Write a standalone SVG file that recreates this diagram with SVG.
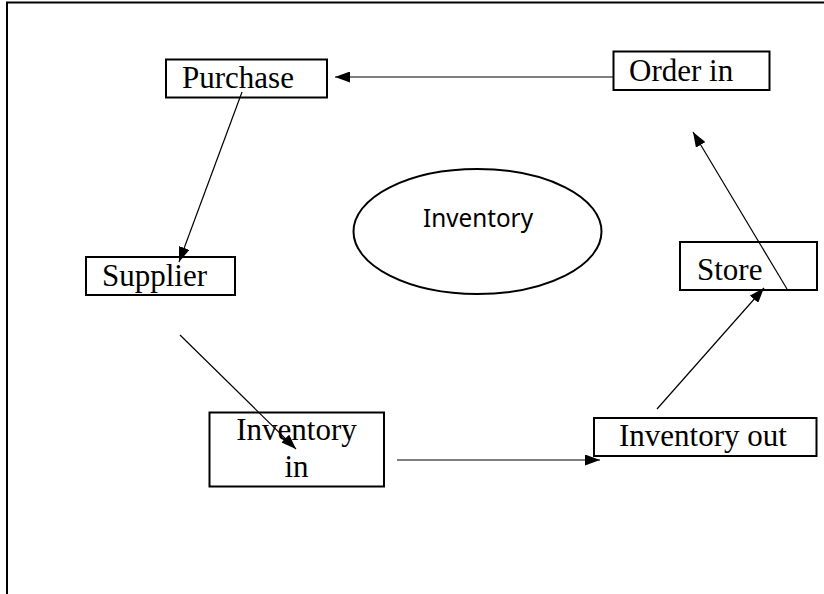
<svg xmlns="http://www.w3.org/2000/svg" width="824" height="594" viewBox="0 0 824 594">
<style>
.box{fill:#fff;stroke:#000;stroke-width:2}
.t{font-family:"Liberation Serif","Times New Roman",serif;font-size:31px;fill:#000}
.s{font-family:"Noto Sans","Open Sans",sans-serif;font-size:26px;fill:#000}
.c{stroke:#000;stroke-width:1.2;fill:none;marker-end:url(#ah)}
</style>
<defs>
<marker id="ah" markerUnits="userSpaceOnUse" markerWidth="16" markerHeight="11" refX="15" refY="5.5" orient="auto">
<path d="M0,0 L15,5.5 L0,11 z" fill="#000"/>
</marker>
</defs>
<rect width="824" height="594" fill="#fff"/>
<g id="frame">
<path d="M824,2.5 H7 V594" fill="none" stroke="#000" stroke-width="2"/>
</g>
<g id="purchase"><rect class="box" x="166" y="59.5" width="161" height="38"/><text class="t" x="182" y="88">Purchase</text></g>
<g id="order-in"><rect class="box" x="613.5" y="51.5" width="156" height="38.5"/><text class="t" x="629" y="81">Order in</text></g>
<g id="supplier"><rect class="box" x="86" y="257" width="149" height="38"/><text class="t" x="102" y="286">Supplier</text></g>
<g id="inventory-in"><rect class="box" x="209.5" y="412.5" width="174.5" height="74"/><text class="t" x="296.5" y="440" text-anchor="middle">Inventory</text><text class="t" x="296.5" y="477" text-anchor="middle">in</text></g>
<g id="inventory-out"><rect class="box" x="594" y="418" width="222.5" height="38"/><text class="t" x="619" y="446">Inventory out</text></g>
<g id="store"><rect class="box" x="680" y="242" width="137" height="48"/><text class="t" x="697" y="280">Store</text></g>
<g id="inventory"><ellipse cx="477.5" cy="231.5" rx="124" ry="62.5" fill="#fff" stroke="#000" stroke-width="2"/><text class="s" x="423" y="227" textLength="110" lengthAdjust="spacingAndGlyphs">Inventory</text></g>
<g id="connectors">
<line class="c" x1="613" y1="77" x2="335" y2="77"/>
<line class="c" x1="242" y1="92" x2="179" y2="262"/>
<line class="c" x1="180" y1="335" x2="296" y2="449"/>
<line class="c" x1="397" y1="460" x2="600" y2="460"/>
<line class="c" x1="657" y1="409" x2="764" y2="288"/>
<line class="c" x1="787" y1="289" x2="693" y2="132"/>
</g>
</svg>
